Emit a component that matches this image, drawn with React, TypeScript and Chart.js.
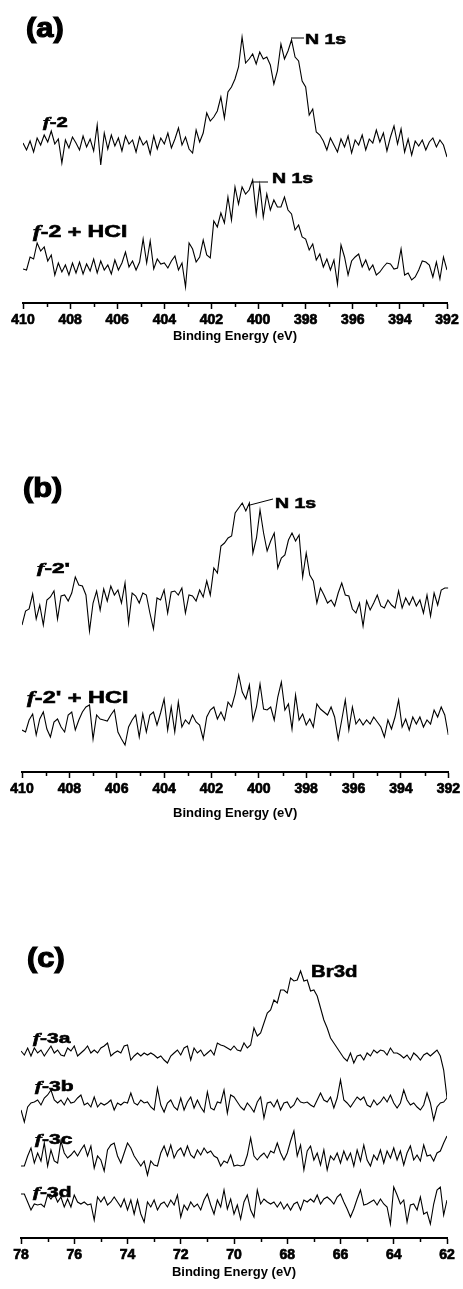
import React, { useEffect, useRef } from 'react';
import { Chart, registerables } from 'chart.js';

Chart.register(...registerables);

// ---------- DATA ----------
// N 1s spectra: binding energy grid 410 -> 392 eV, step 0.15 eV (121 points)
const N1S_START = 410;
const N1S_STEP = 0.15;
// Br 3d spectra: binding energy grid 78 -> 62 eV, step 0.125 eV (129 points)
const BR_START = 78;
const BR_STEP = 0.125;

const N1S_TICKS = [410, 408, 406, 404, 402, 400, 398, 396, 394, 392];
const BR_TICKS = [78, 76, 74, 72, 70, 68, 66, 64, 62];

// intensities (a.u.), relative to each trace's own baseline
const F2 = [
  4, -3, 6, -5, 9, 2, 12, 5, 16, 3,
  8, -16, 7, -1, 10, 4, -3, 11, 0, 8,
  -4, 22, -18, 14, -2, 12, 1, 9, -4, 11,
  3, 7, -5, 10, 2, 6, -7, 11, -2, 9,
  3, 14, -1, 8, 19, 2, 10, -2, -6, 17,
  5, 14, 34, 26, 30, 36, 50, 29, 55, 60,
  68, 80, 110, 84, 88, 93, 83, 95, 88, 90,
  82, 63, 76, 103, 88, 96, 107, 90, 86, 66,
  60, 32, 38, 15, 12, 6, -3, 9, 2, -5,
  8, 0, 11, -6, 7, 2, 12, -3, 8, 4,
  17, 5, 14, -4, 10, 21, 3, 18, -5, 8,
  -8, 6, 1, 7, -3, 5, 9, 0, 7, 2,
  -10,
];

const F2_HCL = [
  -2, -3, 10, 8, 24, 16, 20, 6, 12, -8,
  4, -5, 2, -8, 4, -6, 5, -7, 3, -4,
  8, -6, 6, -3, 2, -7, 7, -3, 4, 15,
  0, 6, -3, 5, 28, 4, 26, -2, 8, 3,
  4, -1, 6, 11, -3, 4, -20, 24, 18, 5,
  10, 27, 12, 9, 46, 40, 54, 44, 70, 47,
  80, 63, 80, 73, 77, 87, 53, 82, 50, 73,
  57, 67, 60, 60, 70, 57, 53, 37, 42, 30,
  28, 17, 23, 7, 13, 0, 8, -3, 7, -17,
  22, 10, -8, 6, 10, 13, 0, 7, -3, 2,
  -8, -5, 0, 4, 3, -2, -1, 18, -8, -6,
  -13, -10, -3, 6, 5, 2, -10, 5, -12, 10,
  -3,
];

const F2P = [
  -22, -8, -6, 9, -16, -2, -22, 3, 6, 12,
  -16, 7, 8, 2, 10, 26, 18, 17, 8, -28,
  0, 12, -7, 14, 2, 17, 8, 13, 0, 20,
  -20, 10, 7, 0, 10, 8, -10, -26, 5, 3,
  13, -10, 11, 12, 8, 15, -10, 8, 7, 2,
  13, 6, 22, 8, 35, 30, 57, 60, 65, 67,
  90, 95, 100, 92, 100, 50, 65, 93, 70, 52,
  62, 70, 35, 45, 48, 63, 70, 62, 68, 26,
  50, 28, 22, 0, 15, 8, 0, 3, -3, 10,
  20, 8, 7, -6, -10, 0, -23, 2, -7, 0,
  8, -3, -5, 3, -2, -5, 12, -5, 5, -2,
  6, -3, 3, -10, 8, -13, 10, -2, 13, 15,
  15,
];

const F2P_HCL = [
  -3, -5, 7, 13, -8, 8, 15, -2, -10, 5,
  8, 0, -5, 12, 15, -3, 7, 15, 20, 22,
  -12, 12, 8, 7, 6, 12, 17, -5, -12, -18,
  0, 7, 12, -10, 13, -5, 12, 15, 2, 14,
  28, -3, 20, -5, 25, 0, 7, 3, 12, 5,
  2, -12, 10, 17, 20, 8, 15, 7, 25, 20,
  33, 52, 35, 28, 42, 7, 20, 43, 18, 17,
  20, 7, 30, 45, 17, 23, -2, 32, 7, 13,
  2, 8, 0, 23, 18, 15, 12, 20, 10, -12,
  7, 27, -3, 20, 3, 8, 2, 7, 3, 10,
  5, 0, -10, 7, -2, 10, 27, 0, 8, -3,
  10, 3, 10, 0, 7, 3, 17, 10, 20, 12,
  -8,
];

const F3A = [
  2, -2, 5, -3, 5, 0, 3, -3, 2, 7,
  0, 3, -2, -3, 5, 2, 7, -3, 0, 3,
  7, 0, 3, 0, 5, 7, 10, -3, 0, 2,
  0, 7, 8, -7, -3, 0, -3, 0, -2, 0,
  -2, -5, -3, -7, -10, -3, 0, 3, -2, 5,
  7, -7, 5, 0, 3, -3, 0, 3, -2, 10,
  8, 7, 5, 3, 7, 3, 2, 10, 5, 8,
  25, 17, 20, 30, 40, 43, 53, 50, 63, 63,
  60, 75, 72, 73, 82, 72, 73, 62, 63, 57,
  45, 33, 25, 15, 10, 5, 0, -5, -8, 0,
  -10, -3, -2, -7, 0, -3, 3, 0, 3, 2,
  -2, 5, 0, 0, -2, -5, -2, -7, 0, -3,
  -7, -2, 0, -3, 0, 3, -3, -17, -45,
];

const F3B = [
  -5, -17, -2, 2, 3, 5, 0, 7, 10, 15,
  5, 2, 5, 0, 7, 2, 3, 7, 10, 0,
  2, -2, 8, -2, 2, 0, 2, 5, -5, 2,
  0, 3, 2, 12, 2, 0, 5, 2, 3, -2,
  -5, 17, 0, -7, 2, 5, -2, -5, 7, -5,
  3, 8, -3, 5, -2, -7, 13, -3, -5, 3,
  2, 15, -8, 10, 8, 3, -2, -5, 2, -2,
  -7, 3, 8, -13, 2, 3, -2, 5, -5, 2,
  3, -3, 0, 7, 3, 2, 3, 0, -2, 5,
  12, 5, 3, 8, -3, 7, 25, 5, 2, -2,
  3, 8, 5, 8, 0, -2, 5, 0, 3, 8,
  3, 10, 2, -3, 2, 15, 5, 0, 2, -2,
  -5, 0, 12, 2, -15, -2, 2, 3, 7,
];

const F3C = [
  -8, -8, 2, 10, -5, 5, -3, 15, -8, 8,
  -3, -5, 17, 5, 0, 3, 7, 2, 8, 13,
  2, 12, -10, 2, -2, -13, 8, 13, 15, 2,
  -5, 5, 15, 10, 2, -3, -8, -3, -17, -3,
  -7, -8, 5, 12, 2, 13, 0, 7, 10, 2,
  12, 3, 0, 8, 3, 10, 5, 7, 2, 0,
  -8, -3, -5, 3, -8, -7, -8, -7, 3, 20,
  2, -2, 2, 5, 0, 7, 5, 15, 5, -2,
  5, 17, 27, 2, 13, -12, 7, 12, -2, 5,
  -7, 8, -12, 2, -2, 5, -5, 7, -2, 5,
  -8, 8, -3, 13, -2, -8, 3, -2, 8, -5,
  7, 0, 10, -2, 7, -7, 5, 12, -2, 3,
  -3, 13, 2, 3, -3, 5, 7, 15, 22,
];

const F3D = [
  8, 8, 0, -8, -2, -3, -2, -5, 7, 3,
  8, 0, 5, -5, 3, -5, 7, 0, -2, 0,
  -3, -2, -18, 5, 0, 5, -3, 0, 5, 0,
  -5, 3, -8, 2, -12, 2, -12, -20, 0, -5,
  2, -8, -2, 0, -5, 2, -3, 7, -15, -3,
  -8, 0, -5, -2, -8, 2, 8, -3, -12, 2,
  -5, 12, -7, 3, -12, -3, -17, 0, 7, -8,
  -15, 12, -2, 3, 0, -2, 0, -5, 0, -7,
  -2, -8, -2, 0, -8, 2, 0, 3, 0, 7,
  -2, 3, 5, 2, -2, 5, 8, 0, -7, -15,
  -7, 3, 12, -3, -2, 0, 2, -3, 3, -2,
  -5, -22, 15, 7, -2, 2, -20, -3, -2, -8,
  5, -12, -10, -22, -2, 12, 15, -13, 2,
];

// vertical stacking offsets (a.u.) for each trace
const OFFSET_F2 = 156;
const OFFSET_F2_HCL = 36;
const OFFSET_F2P = 169;
const OFFSET_F2P_HCL = 45;
const OFFSET_F3A = 185;
const OFFSET_F3B = 133;
const OFFSET_F3C = 80;
const OFFSET_F3D = 36;

const X_TITLE = 'Binding Energy (eV)';

// ---------- helpers ----------
const energyGrid = (start: number, step: number, n: number) =>
  Array.from({ length: n }, (_, i) => +(start - i * step).toFixed(4));

const SANS = '"Liberation Sans", Arial, Helvetica, sans-serif';

type Series = { values: number[]; offset: number; start: number; step: number };
type Leader = [number, number, number, number];

type PanelProps = {
  top: number;
  height: number;
  axisY: number;
  padLeft: number;
  padRight: number;
  xMin: number;
  xMax: number;
  ticks: number[];
  series: Series[];
  titlePadBottom: number;
  leaders: Leader[];
};

function Panel(p: PanelProps) {
  const ref = useRef<HTMLCanvasElement | null>(null);
  useEffect(() => {
    if (!ref.current) return;
    const padTop = 5;
    const yMax = p.axisY - p.top - padTop;
    const axisHeight = p.top + p.height - p.axisY;
    const extras = {
      id: 'extras',
      afterDraw(chart: any) {
        const ctx = chart.ctx;
        const xs = chart.scales.x;
        const area = chart.chartArea;
        ctx.save();
        ctx.strokeStyle = '#000';
        ctx.lineWidth = 1.5;
        for (let i = 0; i < p.ticks.length - 1; i++) {
          const mid = (p.ticks[i] + p.ticks[i + 1]) / 2;
          const x = Math.round(xs.getPixelForValue(mid)) + 0.5;
          ctx.beginPath();
          ctx.moveTo(x, area.bottom);
          ctx.lineTo(x, area.bottom + 4);
          ctx.stroke();
        }
        ctx.lineWidth = 1;
        for (const [x1, y1, x2, y2] of p.leaders) {
          ctx.beginPath();
          ctx.moveTo(x1, y1 - p.top);
          ctx.lineTo(x2, y2 - p.top);
          ctx.stroke();
        }
        ctx.restore();
      },
    };
    const chart = new Chart(ref.current, {
      type: 'line',
      data: {
        datasets: p.series.map((s) => {
          const xs = energyGrid(s.start, s.step, s.values.length);
          return {
            data: s.values.map((v, i) => ({ x: xs[i], y: v + s.offset })),
            borderColor: '#000',
            borderWidth: 1.1,
            pointRadius: 0,
            tension: 0,
            fill: false,
          };
        }),
      },
      options: {
        responsive: false,
        animation: false,
        devicePixelRatio: 1,
        layout: { padding: { left: p.padLeft, right: p.padRight, top: padTop, bottom: 0 } },
        plugins: { legend: { display: false }, tooltip: { enabled: false } },
        scales: {
          x: {
            type: 'linear',
            min: p.xMin,
            max: p.xMax,
            reverse: true,
            afterBuildTicks: (scale: any) => {
              scale.ticks = p.ticks.map((v) => ({ value: v }));
            },
            afterFit: (scale: any) => {
              scale.height = axisHeight;
            },
            border: { display: true, color: '#000', width: 2 },
            grid: {
              display: true,
              drawOnChartArea: false,
              drawTicks: true,
              tickLength: 6,
              tickColor: '#000',
              tickWidth: 1.5,
            },
            ticks: {
              autoSkip: false,
              maxRotation: 0,
              color: '#000',
              padding: 3,
              textStrokeColor: '#000',
              textStrokeWidth: 0.7,
              font: { family: SANS, weight: 'bold', size: 14 },
              callback: (v: any) => String(v),
            },
            title: {
              display: true,
              text: X_TITLE,
              color: '#000',
              font: { family: SANS, weight: 'bold', size: 13 },
              padding: { top: 0, bottom: p.titlePadBottom },
            },
          },
          y: { display: false, min: 0, max: yMax },
        },
      } as any,
      plugins: [extras],
    });
    return () => chart.destroy();
  }, []);
  return (
    <canvas
      ref={ref}
      width={463}
      height={p.height}
      style={{ position: 'absolute', left: 0, top: p.top, width: 463, height: p.height }}
    />
  );
}

type Part = { t: string; it?: boolean };
type Label = { parts: Part[]; x: number; base: number; size: number; sx: number; stroke: number };

const LABELS: Label[] = [
  { parts: [{ t: '(a)' }], x: 26, base: 38, size: 28, sx: 1.1, stroke: 1.2 },
  { parts: [{ t: '(b)' }], x: 23, base: 498, size: 28, sx: 1.1, stroke: 1.2 },
  { parts: [{ t: '(c)' }], x: 27, base: 968, size: 28, sx: 1.1, stroke: 1.2 },
  { parts: [{ t: 'N 1s' }], x: 305, base: 43.5, size: 15, sx: 1.3, stroke: 0.6 },
  { parts: [{ t: 'N 1s' }], x: 272, base: 183, size: 15, sx: 1.3, stroke: 0.6 },
  { parts: [{ t: 'N 1s' }], x: 275, base: 508, size: 15, sx: 1.3, stroke: 0.6 },
  { parts: [{ t: 'Br3d' }], x: 311, base: 977, size: 17, sx: 1.2, stroke: 0.6 },
  { parts: [{ t: 'f', it: true }, { t: '-2' }], x: 43, base: 127, size: 15, sx: 1.35, stroke: 0.6 },
  { parts: [{ t: 'f', it: true }, { t: '-2 + HCl' }], x: 33, base: 237, size: 16.5, sx: 1.4, stroke: 0.6 },
  { parts: [{ t: 'f', it: true }, { t: "-2'" }], x: 37, base: 573, size: 15, sx: 1.5, stroke: 0.6 },
  { parts: [{ t: 'f', it: true }, { t: "-2' + HCl" }], x: 27, base: 703, size: 17, sx: 1.38, stroke: 0.6 },
  { parts: [{ t: 'f', it: true }, { t: '-3a' }], x: 33, base: 1043, size: 15, sx: 1.4, stroke: 0.6 },
  { parts: [{ t: 'f', it: true }, { t: '-3b' }], x: 35, base: 1091, size: 15, sx: 1.4, stroke: 0.6 },
  { parts: [{ t: 'f', it: true }, { t: '-3c' }], x: 35, base: 1144, size: 15, sx: 1.4, stroke: 0.6 },
  { parts: [{ t: 'f', it: true }, { t: '-3d' }], x: 33, base: 1197, size: 15, sx: 1.4, stroke: 0.6 },
];

export default function App() {
  return (
    <div
      style={{
        position: 'absolute',
        left: 0,
        top: 0,
        width: 463,
        height: 1289,
        background: '#fff',
        overflow: 'hidden',
      }}
    >
      <Panel
        top={0}
        height={350}
        axisY={303}
        padLeft={23}
        padRight={16}
        xMin={392}
        xMax={410}
        ticks={N1S_TICKS}
        titlePadBottom={6}
        series={[
          { values: F2, offset: OFFSET_F2, start: N1S_START, step: N1S_STEP },
          { values: F2_HCL, offset: OFFSET_F2_HCL, start: N1S_START, step: N1S_STEP },
        ]}
        leaders={[
          [291, 38, 304, 38],
          [253, 182, 268, 182],
        ]}
      />
      <Panel
        top={440}
        height={390}
        axisY={772}
        padLeft={22}
        padRight={12}
        xMin={392}
        xMax={410}
        ticks={N1S_TICKS}
        titlePadBottom={9}
        series={[
          { values: F2P, offset: OFFSET_F2P, start: N1S_START, step: N1S_STEP },
          { values: F2P_HCL, offset: OFFSET_F2P_HCL, start: N1S_START, step: N1S_STEP },
        ]}
        leaders={[[250, 505, 273, 499]]}
      />
      <Panel
        top={890}
        height={399}
        axisY={1238}
        padLeft={21}
        padRight={16}
        xMin={62}
        xMax={78}
        ticks={BR_TICKS}
        titlePadBottom={9}
        series={[
          { values: F3A, offset: OFFSET_F3A, start: BR_START, step: BR_STEP },
          { values: F3B, offset: OFFSET_F3B, start: BR_START, step: BR_STEP },
          { values: F3C, offset: OFFSET_F3C, start: BR_START, step: BR_STEP },
          { values: F3D, offset: OFFSET_F3D, start: BR_START, step: BR_STEP },
        ]}
        leaders={[]}
      />
      {LABELS.map((l, i) => (
        <div
          key={i}
          style={{
            position: 'absolute',
            left: l.x,
            top: l.base - 0.8465 * l.size,
            fontFamily: SANS,
            fontWeight: 'bold',
            fontSize: l.size,
            lineHeight: 1,
            whiteSpace: 'pre',
            color: '#000',
            WebkitTextStroke: `${l.stroke}px #000`,
            transform: `scaleX(${l.sx})`,
            transformOrigin: '0 0',
          }}
        >
          {l.parts.map((pt, j) =>
            pt.it ? (
              <span
                key={j}
                style={{ fontStyle: 'italic', fontFamily: '"Liberation Serif", "Times New Roman", serif' }}
              >
                {pt.t}
              </span>
            ) : (
              <span key={j}>{pt.t}</span>
            )
          )}
        </div>
      ))}
    </div>
  );
}
